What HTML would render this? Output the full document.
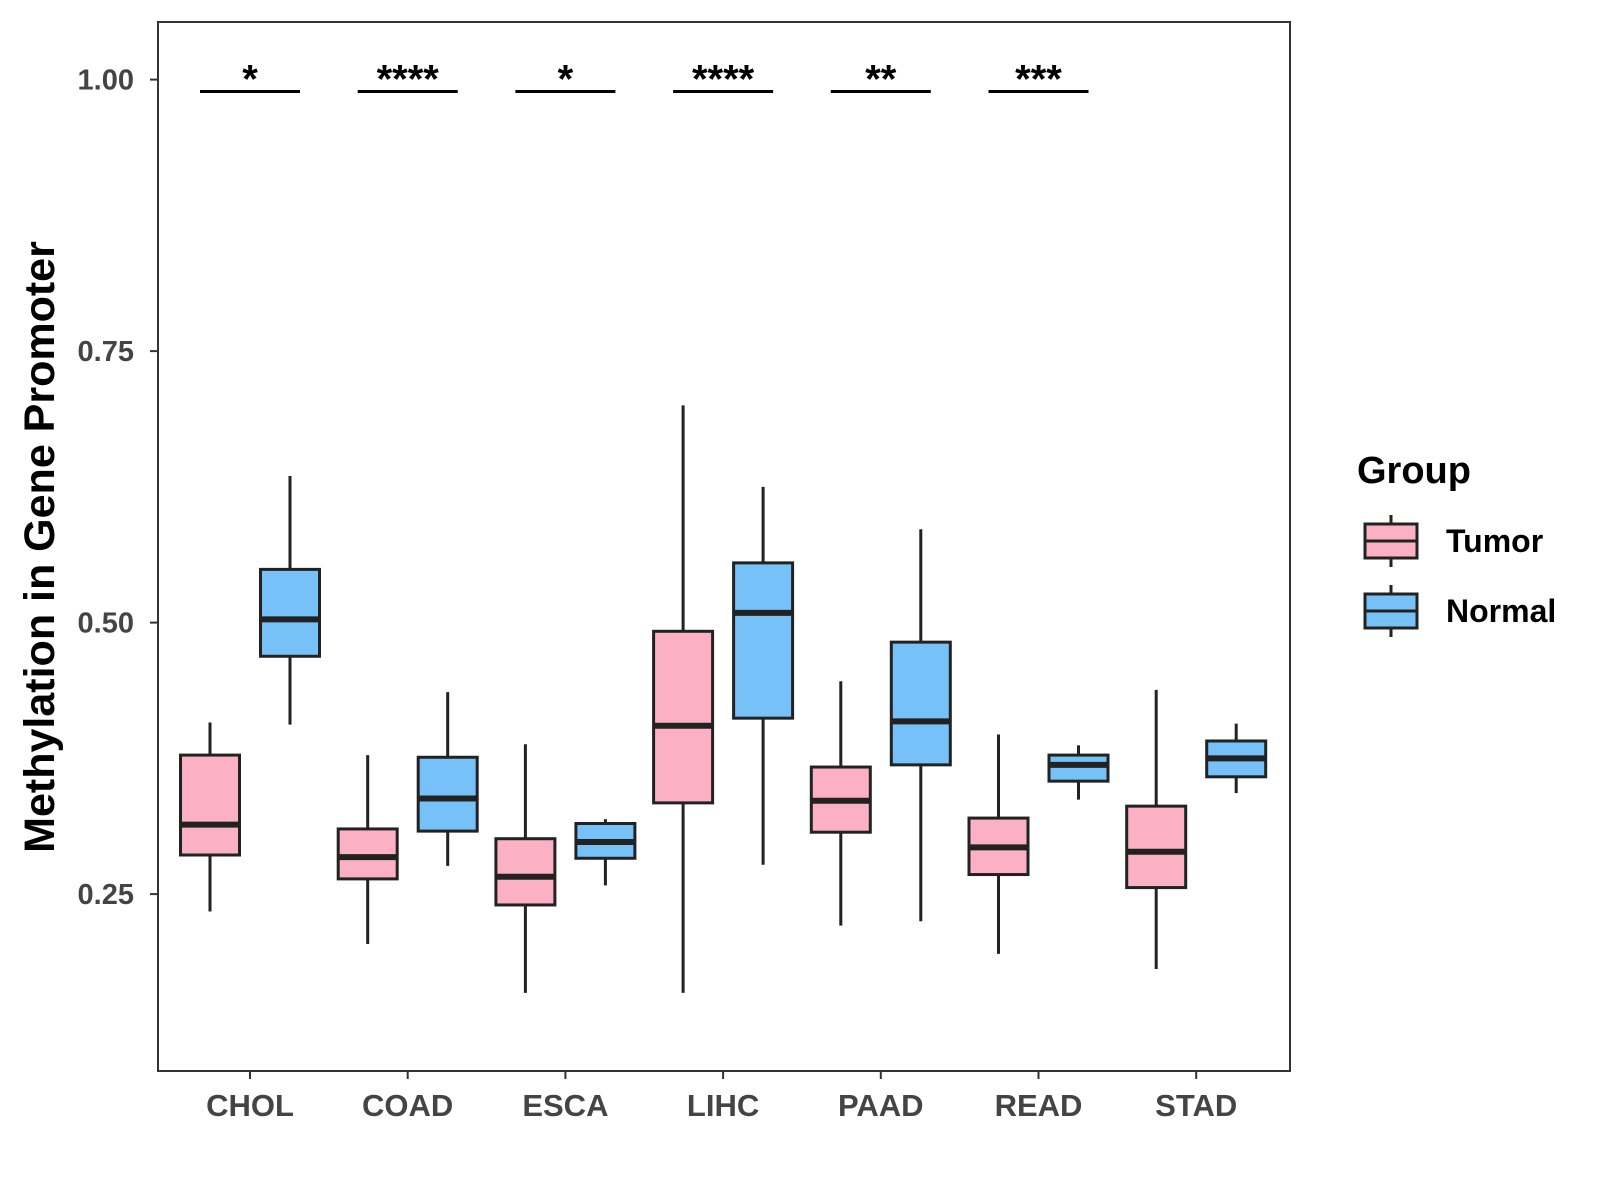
<!DOCTYPE html>
<html><head><meta charset="utf-8"><style>
body{margin:0;background:#fff;}
svg{display:block;font-family:"Liberation Sans",Arial,sans-serif;}
</style></head><body>
<svg id="chart" width="1600" height="1200" viewBox="0 0 1600 1200"></svg>
<script>
const categories=["CHOL","COAD","ESCA","LIHC","PAAD","READ","STAD"];
const tumorStats=[[0.234,0.286,0.314,0.378,0.408],[0.204,0.264,0.284,0.310,0.378],[0.159,0.240,0.266,0.301,0.388],[0.159,0.334,0.405,0.492,0.700],[0.221,0.307,0.336,0.367,0.446],[0.195,0.268,0.293,0.320,0.397],[0.181,0.256,0.289,0.331,0.438]];
const normalStats=[[0.406,0.469,0.503,0.549,0.635],[0.276,0.308,0.338,0.376,0.436],[0.258,0.283,0.298,0.315,0.319],[0.277,0.412,0.509,0.555,0.625],[0.225,0.369,0.409,0.482,0.586],[0.337,0.354,0.369,0.378,0.387],[0.343,0.358,0.375,0.391,0.407]];
const sigLabels=["*","****","*","****","**","***",""];
const yTicks=[0.25,0.50,0.75,1.00];
const yTickLabels=["0.25","0.50","0.75","1.00"];
const sigY=0.989;

const svg=document.getElementById('chart');
const NS="http://www.w3.org/2000/svg";
const P={l:158,r:1290,t:22,b:1071};
function y(v){return 79.6+(1-v)*1086;}
function x(i){return 250+i*157.7;}
function mk(tag,attrs,parent){const e=document.createElementNS(NS,tag);for(const k in attrs)e.setAttribute(k,attrs[k]);(parent||svg).appendChild(e);return e;}

const panel=mk('rect',{x:P.l,y:P.t,width:P.r-P.l,height:P.b-P.t,fill:'#fff',stroke:'#333','stroke-width':2});



yTicks.forEach((v,i)=>{
  const t=mk('line',{x1:P.l-8,x2:P.l,y1:y(v),y2:y(v),stroke:'#333','stroke-width':2});
  
  
  const l=mk('text',{x:P.l-24,y:y(v)+10,'text-anchor':'end','font-size':29,'font-weight':'bold',fill:'#444'});
  l.textContent=yTickLabels[i];
  
  
});

function drawBox(cx,s,fill,name){
  const g=mk('g',{});
  
  
  const hw=29.5;
  mk('line',{x1:cx,x2:cx,y1:y(s[0]),y2:y(s[1]),stroke:'#222','stroke-width':3},g);
  mk('line',{x1:cx,x2:cx,y1:y(s[3]),y2:y(s[4]),stroke:'#222','stroke-width':3},g);
  mk('rect',{x:cx-hw,y:y(s[3]),width:hw*2,height:y(s[1])-y(s[3]),fill:fill,stroke:'#222','stroke-width':3},g);
  mk('line',{x1:cx-hw,x2:cx+hw,y1:y(s[2]),y2:y(s[2]),stroke:'#222','stroke-width':6},g);
}

categories.forEach((c,i)=>{
  drawBox(x(i)-40,tumorStats[i],'#FBB1C3','box-tumor-'+c.toLowerCase());
  drawBox(x(i)+40,normalStats[i],'#76C1F7','box-normal-'+c.toLowerCase());
  const t=mk('line',{x1:x(i),x2:x(i),y1:P.b,y2:P.b+8,stroke:'#333','stroke-width':2});
  
  
  const l=mk('text',{x:x(i),y:1116,'text-anchor':'middle','font-size':31,'font-weight':'bold',fill:'#444'});
  l.textContent=c;
  
  
  if(sigLabels[i]){
    const sl=mk('line',{x1:x(i)-50,x2:x(i)+50,y1:y(sigY),y2:y(sigY),stroke:'#000','stroke-width':3});
    
    
    const st=mk('text',{x:x(i),y:y(sigY)+1,'text-anchor':'middle','font-size':40,'font-weight':'bold',fill:'#000'});
    st.textContent=sigLabels[i];
    
    
  }
});

const yt=mk('text',{x:0,y:0,transform:'translate(54,547) rotate(-90)','text-anchor':'middle','font-size':43,'font-weight':'bold',fill:'#000'});
yt.textContent='Methylation in Gene Promoter';



const lg=mk('g',{});


const ltitle=mk('text',{x:1357,y:483,'font-size':38,'font-weight':'bold',fill:'#000'},lg);
ltitle.textContent='Group';


[['Tumor','#FBB1C3',541],['Normal','#76C1F7',611]].forEach(([n,f,cy])=>{
  const e=mk('g',{},lg);
  
  
  mk('line',{x1:1391,x2:1391,y1:cy-26,y2:cy+26,stroke:'#222','stroke-width':3},e);
  mk('rect',{x:1365,y:cy-17,width:52,height:34,fill:f,stroke:'#222','stroke-width':3},e);
  mk('line',{x1:1365,x2:1417,y1:cy,y2:cy,stroke:'#222','stroke-width':3},e);
  const t=mk('text',{x:1446,y:cy+11,'font-size':32,'font-weight':'bold',fill:'#000'},e);
  t.textContent=n;
});
</script>
</body></html>
